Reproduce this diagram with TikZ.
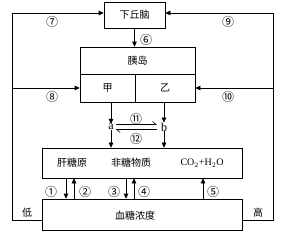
\documentclass[tikz,border=0pt]{standalone}
\usepackage{fontspec}
\setmainfont{Liberation Serif}
\newfontfamily\cjk{Noto Sans CJK SC}
\usetikzlibrary{arrows.meta,positioning,calc}

\begin{document}
\begin{tikzpicture}[x=1pt, y=-1pt,
    box/.style={rectangle, draw, line width=0.6pt, inner sep=0pt,
        font=\cjk\fontsize{10}{10}\selectfont},
    txt/.style={inner sep=0pt, font=\cjk\fontsize{10}{10}\selectfont},
    num/.style={inner sep=0pt, font=\cjk\fontsize{12}{12}\selectfont},
    arr/.style={-{Triangle[length=5pt,width=4.5pt]}, line width=0.6pt},
    harp/.style={-{Straight Barb[left,length=3.5pt,width=6pt]}, line width=0.6pt}
]
    \useasboundingbox (0,0) rectangle (281,235);

    % boxes
    \node[box, minimum width=61pt, minimum height=26pt] (hypo) at (134.5,15) {下丘脑};
    \node[box, minimum width=115pt, minimum height=27pt] (islet) at (137.5,60.5) {胰岛};
    \node[box, minimum width=55pt, minimum height=28pt] (jia) at (107.5,88) {甲};
    \node[box, minimum width=60pt, minimum height=28pt] (yi) at (165,88) {乙};
    \node[box, minimum width=200pt, minimum height=30pt] (mid) at (142,163) {};
    \node[box, minimum width=200pt, minimum height=31pt] (blood) at (142,214.5) {};

    \node[txt] (glycogen) at (72,163) {肝糖原};
    \node[txt] (nonsugar) at (131,163) {非糖物质};
    \node[inner sep=0pt, font=\fontsize{10}{10}\selectfont] (co2) at (202,163) {CO$_2$+H$_2$O};
    \node[txt] (conc) at (135,216) {血糖浓度};

    % a, b
    \node[inner sep=0pt, font=\fontsize{12}{12}\selectfont] (a) at (111,127) {a};
    \node[inner sep=0pt, font=\fontsize{12}{12}\selectfont] (b) at (164,127) {b};

    \draw[arr] (hypo.south) -- (hypo.south |- islet.north);
    \node[num] (n6) at (146,40) {⑥};

    \draw[arr] (jia.south -| a) -- (a.north);
    \draw[arr] (yi.south -| b) -- (b.north);
    \draw[arr] (a.south) -- (mid.north -| a);
    \draw[arr] (b.south) -- (mid.north -| b);
    \draw[harp] ([xshift=2pt,yshift=2.5pt]a.east) -- ([xshift=-4pt,yshift=2.5pt]b.west);
    \draw[harp] ([xshift=-4pt,yshift=-2.5pt]b.west) -- ([xshift=2pt,yshift=-2.5pt]a.east);
    \node[num] (n11) at (136,119) {⑪};
    \node[num] (n12) at (136,139) {⑫};

    % between tissues and blood
    \draw[arr] (mid.south -| 66,0) -- (blood.north -| 66,0);
    \draw[arr] (blood.north -| 74,0) -- (mid.south -| 74,0);
    \draw[arr] (mid.south -| 126,0) -- (blood.north -| 126,0);
    \draw[arr] (blood.north -| 134,0) -- (mid.south -| 134,0);
    \draw[arr] (blood.north -| 203,0) -- (mid.south -| 203,0);
    \node[num] (n1) at (51,192) {①};
    \node[num] (n2) at (85,192) {②};
    \node[num] (n3) at (114,192) {③};
    \node[num] (n4) at (144,192) {④};
    \node[num] (n5) at (213,192) {⑤};

    % feedback lines
    \coordinate (lt) at (12,13);
    \coordinate (lm) at (12,88);
    \coordinate (lb) at (12,220);
    \coordinate (rt) at (273,13);
    \coordinate (rm) at (273,88);
    \coordinate (rb) at (273,220);
    \draw[arr] (lb -| blood.west) -- (lb) -- (lt) -- (lt -| hypo.west);
    \draw[arr] (lm) -- (lm -| jia.west);
    \draw[arr] (rb -| blood.east) -- (rb) -- (rt) -- (rt -| hypo.east);
    \draw[arr] (rm) -- (rm -| yi.east);
    \node[num] (n7) at (52,22) {⑦};
    \node[num] (n9) at (228,22) {⑨};
    \node[num] (n8) at (52,97) {⑧};
    \node[num] (n10) at (228,97) {⑩};
    \node[txt] (low) at (27,213) {低};
    \node[txt] (high) at (258,213) {高};
\end{tikzpicture}
\end{document}
